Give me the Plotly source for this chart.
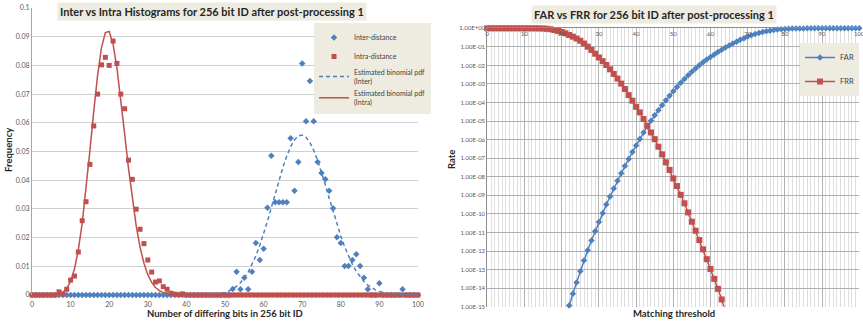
import plotly.graph_objects as go

# ---------------- Left chart: histograms ----------------
bits = list(range(0, 101))
inter_freq = [
    0, 0, 0, 0, 0, 0, 0, 0, 0, 0,            # 0-9
    0, 0, 0, 0, 0, 0, 0, 0, 0, 0,            # 10-19
    0, 0, 0, 0, 0, 0, 0, 0, 0, 0,            # 20-29
    0, 0, 0, 0, 0, 0, 0, 0, 0, 0,            # 30-39
    0, 0, 0, 0, 0, 0, 0, 0, 0, 0,            # 40-49
    0, 0, 0.0021, 0.0081, 0.0020, 0.0060, 0.0020, 0.0081, 0.0181, 0.0122,   # 50-59
    0.0161, 0.0304, 0.0485, 0.0323, 0.0323, 0.0323, 0.0323, 0.0546, 0.0363, 0.0463,  # 60-69
    0.0807, 0.0605, 0.0746, 0.0605, 0.0463, 0.0425, 0.0403, 0.0363, 0.0302, 0.0201,  # 70-79
    0.0181, 0.0101, 0.0101, 0.0122, 0.0142, 0.0101, 0.0060, 0.0020, 0, 0,   # 80-89
    0.0041, 0, 0, 0, 0, 0, 0.0020, 0, 0, 0,  # 90-99
    0,                                        # 100
]
intra_freq = [
    0, 0, 0, 0, 0, 0, 0, 0.0011, 0.0003, 0.0020,                          # 0-9
    0.0052, 0.0066, 0.0150, 0.0259, 0.0325, 0.0455, 0.0589, 0.0700, 0.0802, 0.0828,  # 10-19
    0.0800, 0.0885, 0.0807, 0.0700, 0.0649, 0.0470, 0.0403, 0.0299, 0.0229, 0.0179,  # 20-29
    0.0122, 0.0080, 0.0045, 0.0049, 0.0029, 0.0020, 0.0006, 0.0003, 0.0001, 0.0004,  # 30-39
    0, 0, 0, 0, 0, 0, 0, 0, 0, 0,            # 40-49
    0, 0, 0, 0, 0, 0, 0, 0, 0, 0,            # 50-59
    0, 0, 0, 0, 0, 0, 0, 0, 0, 0,            # 60-69
    0, 0, 0, 0, 0, 0, 0, 0, 0, 0,            # 70-79
    0, 0, 0, 0, 0, 0, 0, 0, 0, 0,            # 80-89
    0, 0, 0, 0, 0, 0, 0, 0, 0, 0,            # 90-99
    0,                                        # 100
]

pdf_inter_x = list(range(40, 101))
pdf_inter_y = [
    0.00001, 0.00001, 0.00002, 0.00003, 0.00005, 0.00008, 0.00013, 0.00023, 0.00037, 0.00059,
    0.00092, 0.00141, 0.00209, 0.00302, 0.00428, 0.00592, 0.00799, 0.01056, 0.01362, 0.01721,
    0.02126, 0.02571, 0.03042, 0.03525, 0.04000, 0.04447, 0.04842, 0.05167, 0.05404, 0.05540,
    0.05570, 0.05491, 0.05309, 0.05036, 0.04687, 0.04280, 0.03835, 0.03374, 0.02914, 0.02471,
    0.02057, 0.01682, 0.01351, 0.01066, 0.00826, 0.00629, 0.00471, 0.00346, 0.00250, 0.00178,
    0.00124, 0.00085, 0.00057, 0.00038, 0.00025, 0.00016, 0.00011, 0.00007, 0.00004, 0.00003,
    0.00002,
]
pdf_intra_x = list(range(0, 61))
pdf_intra_y = [
    0, 0, 0, 0.000002, 0.000008, 0.000035, 0.00012, 0.00037, 0.00098, 0.00229,
    0.00478, 0.00907, 0.01569, 0.02496, 0.03672, 0.05020, 0.06406, 0.07661, 0.08620, 0.09143,
    0.09180, 0.08742, 0.07913, 0.06823, 0.05613, 0.04414, 0.03323, 0.02399, 0.01662, 0.01108,
    0.00710, 0.00439, 0.00262, 0.00151, 0.00084, 0.00045, 0.00023, 0.00012, 0.00006, 0.00003,
    0.00001, 0, 0, 0, 0, 0, 0, 0, 0, 0,
    0, 0, 0, 0, 0, 0, 0, 0, 0, 0,
    0,
]

# ---------------- Right chart: FAR / FRR ----------------
far_x = list(range(20, 101))
far_y = [
    5.01e-17, 2.51e-16, 1.17e-15, 5.01e-15, 2.04e-14, 8.13e-14, 3.09e-13, 1.10e-12, 3.72e-12, 1.17e-11,  # 20-29
    3.63e-11, 1.10e-10, 3.16e-10, 8.71e-10, 2.34e-9, 6.17e-9, 1.55e-8, 3.80e-8, 9.12e-8, 2.14e-7,        # 30-39
    4.90e-7, 1.10e-6, 2.40e-6, 5.13e-6, 1.05e-5, 2.04e-5, 3.89e-5, 7.24e-5, 1.32e-4, 2.34e-4,            # 40-49
    4.07e-4, 6.92e-4, 1.15e-3, 1.86e-3, 2.95e-3, 4.57e-3, 6.92e-3, 1.02e-2, 1.48e-2, 2.09e-2,            # 50-59
    2.88e-2, 3.89e-2, 5.25e-2, 6.92e-2, 9.12e-2, 0.1175, 0.151, 0.191, 0.240, 0.295,                    # 60-69
    0.363, 0.427, 0.490, 0.556, 0.624, 0.692, 0.750, 0.804, 0.851, 0.891,                               # 70-79
    0.923, 0.946, 0.964, 0.977, 0.986, 0.991, 0.995, 0.997, 0.998, 0.999,                               # 80-89
    0.9994, 0.9996, 0.9998, 0.9999, 0.9999, 1.0, 1.0, 1.0, 1.0, 1.0, 1.0,                               # 90-100
]
frr_x = list(range(0, 66))
frr_y = [
    1.0, 1.0, 1.0, 1.0, 1.0, 1.0, 1.0, 1.0, 1.0, 1.0,                                                   # 0-9
    1.0, 0.999, 0.998, 0.996, 0.989, 0.977, 0.944, 0.891, 0.813, 0.724,                                 # 10-19
    0.631, 0.537, 0.437, 0.355, 0.282, 0.214, 0.151, 0.102, 0.0676, 0.0427,                             # 20-29
    0.0269, 0.0170, 0.0105, 6.17e-3, 3.47e-3, 1.95e-3, 1.05e-3, 5.37e-4, 2.51e-4, 1.26e-4,              # 30-39
    5.89e-5, 2.95e-5, 1.29e-5, 5.62e-6, 2.45e-6, 1.07e-6, 4.17e-7, 1.62e-7, 6.03e-8, 2.34e-8,           # 40-49
    8.13e-9, 3.16e-9, 1.07e-9, 3.72e-10, 1.20e-10, 3.80e-11, 1.23e-11, 3.89e-12, 1.23e-12, 3.63e-13,    # 50-59
    1.07e-13, 3.16e-14, 9.12e-15, 2.45e-15, 6.31e-16, 1.58e-16,                                         # 60-65
]
rate_tickvals = [1e0, 1e-1, 1e-2, 1e-3, 1e-4, 1e-5, 1e-6, 1e-7, 1e-8, 1e-9,
                 1e-10, 1e-11, 1e-12, 1e-13, 1e-14, 1e-15]
rate_ticktext = ["1.00E+00", "1.00E-01", "1.00E-02", "1.00E-03", "1.00E-04", "1.00E-05",
                 "1.00E-06", "1.00E-07", "1.00E-08", "1.00E-09", "1.00E-10", "1.00E-11",
                 "1.00E-12", "1.00E-13", "1.00E-14", "1.00E-15"]
RATE_MIN = 1e-15

BLUE = "#4f81bd"
RED = "#c0504d"
BEIGE = "#eeece1"
FONT = "Lato"
W, H = 863, 321

fig = go.Figure()

fig.add_trace(go.Scatter(
    x=bits, y=inter_freq, mode="markers", name="Inter-distance",
    marker=dict(symbol="diamond", size=5, color=BLUE), cliponaxis=False,
    xaxis="x", yaxis="y", legend="legend"))
fig.add_trace(go.Scatter(
    x=bits, y=intra_freq, mode="markers", name="Intra-distance",
    marker=dict(symbol="square", size=5, color=RED), cliponaxis=False,
    xaxis="x", yaxis="y", legend="legend"))
fig.add_trace(go.Scatter(
    x=pdf_inter_x, y=pdf_inter_y, mode="lines", name="Estimated binomial pdf<br>(Inter)",
    line=dict(color=BLUE, width=1.5, dash="4px,3px"),
    xaxis="x", yaxis="y", legend="legend"))
fig.add_trace(go.Scatter(
    x=pdf_intra_x, y=pdf_intra_y, mode="lines", name="Estimated binomial pdf<br>(Intra)",
    line=dict(color=RED, width=1.5),
    xaxis="x", yaxis="y", legend="legend"))

fig.add_trace(go.Scatter(
    x=far_x, y=far_y, mode="lines+markers", name="FAR",
    line=dict(color=BLUE, width=1.5),
    marker=dict(symbol="diamond", size=5, color=BLUE,
                opacity=[1 if v >= RATE_MIN else 0 for v in far_y]),
    cliponaxis=False, xaxis="x2", yaxis="y2", legend="legend2", legendgroup="far"))
fig.add_trace(go.Scatter(
    x=frr_x, y=frr_y, mode="lines+markers", name="FRR",
    line=dict(color=RED, width=1.5),
    marker=dict(symbol="square", size=6, color=RED,
                opacity=[1 if v >= RATE_MIN else 0 for v in frr_y]),
    cliponaxis=False, xaxis="x2", yaxis="y2", legend="legend2", legendgroup="frr"))

tick_font = dict(family=FONT, size=7, color="#595959")

fig.update_layout(
    width=W, height=H, margin=dict(l=0, r=0, t=0, b=0, autoexpand=False),
    paper_bgcolor="white", plot_bgcolor="white",
    font=dict(family=FONT, color="#404040"),
    xaxis=dict(domain=[32 / W, 418 / W], range=[0, 100], dtick=10, showgrid=False,
               zeroline=False, showline=False, ticks="", tickfont=tick_font,
               ticklabelstandoff=4, automargin=False),
    yaxis=dict(domain=[(H - 295) / H, (H - 8) / H], range=[0, 0.1], dtick=0.01,
               showgrid=True, gridcolor="#d0d0d0", gridwidth=1, zeroline=False,
               showline=True, linecolor="#a6a6a6", ticks="", tickfont=tick_font,
               anchor="x", automargin=False),
    xaxis2=dict(domain=[487.3 / W, 859.3 / W], range=[0, 100], dtick=10, side="top",
                ticklabelposition="inside", ticklabelstandoff=2, ticklabeloverflow="allow",
                showgrid=True, gridcolor="#b0b0b0",
                minor=dict(dtick=1, showgrid=True, gridcolor="#dedede"),
                zeroline=False, showline=True, linecolor="#8c8c8c", ticks="",
                tickfont=dict(family=FONT, size=6, color="#595959"), anchor="y2",
                automargin=False),
    yaxis2=dict(domain=[(H - 306.7) / H, (H - 28.3) / H], type="log",
                range=[-15.0005, 0.0005],
                tickvals=rate_tickvals, ticktext=rate_ticktext, showgrid=True,
                gridcolor="#b0b0b0", zeroline=False, showline=True, linecolor="#8c8c8c",
                ticks="", tickfont=dict(family=FONT, size=6, color="#595959"), anchor="x2",
                ticklabeloverflow="allow", automargin=False),
    legend=dict(x=314 / W, y=(H - 23) / H, xanchor="left", yanchor="top",
                bgcolor=BEIGE, font=dict(family=FONT, size=7, color="#404040"),
                itemwidth=30, tracegroupgap=0),
    legend2=dict(x=800 / W, y=(H - 43) / H, xanchor="left", yanchor="top",
                 bgcolor=BEIGE, font=dict(family=FONT, size=7.5, color="#404040"),
                 itemwidth=30, traceorder="grouped", tracegroupgap=5),
    showlegend=True,
)

annos = [
    dict(text="<b>Inter vs Intra Histograms for 256 bit ID after post-processing 1</b>",
         x=212 / W, y=(H - 11) / H, font=dict(size=11, color="#262626")),
    dict(text="<b>FAR vs FRR for 256 bit ID after post-processing 1</b>",
         x=654 / W, y=(H - 14) / H, font=dict(size=11, color="#262626")),
]
for a in annos:
    fig.add_annotation(xref="paper", yref="paper", showarrow=False, bgcolor=BEIGE,
                       borderpad=2, xanchor="center", yanchor="middle",
                       font_family=FONT, **a)

axis_titles = [
    dict(text="<b>Frequency</b>", x=8 / W, y=(H - 150) / H, textangle=-90),
    dict(text="<b>Number of differing bits in 256 bit ID</b>", x=225 / W, y=(H - 313) / H),
    dict(text="<b>Rate</b>", x=451 / W, y=(H - 160) / H, textangle=-90),
    dict(text="<b>Matching threshold</b>", x=674 / W, y=(H - 313) / H),
]
for a in axis_titles:
    fig.add_annotation(xref="paper", yref="paper", showarrow=False,
                       xanchor="center", yanchor="middle",
                       font=dict(family=FONT, size=9.5, color="#262626"), **a)

fig.write_html("out.html")
